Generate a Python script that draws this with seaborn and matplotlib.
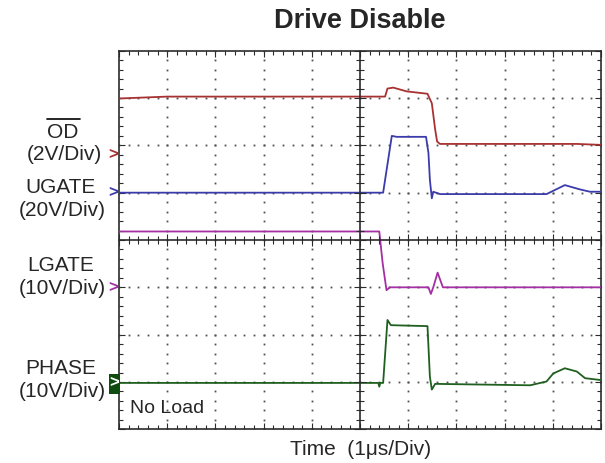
import numpy as np
import pandas as pd
import matplotlib
matplotlib.use("Agg")
import matplotlib.pyplot as plt
import seaborn as sns
from matplotlib.patches import Rectangle
from matplotlib.lines import Line2D
from matplotlib.ticker import MultipleLocator

# ---- data (time in divisions, amplitude in divisions from screen centre) ----
od_t = [0.0, 1.0, 5.52, 5.57, 5.69, 5.97, 6.40, 6.49, 6.56, 6.60, 6.66, 9.5, 10.0]
od_v = [2.99, 3.03, 3.03, 3.20, 3.22, 3.14, 3.09, 2.89, 2.33, 2.08, 2.03, 2.03, 2.01]

ug_t = [0.0, 5.48, 5.66, 5.76, 6.37, 6.42, 6.45, 6.49, 6.52, 6.66, 8.87, 9.25, 9.56, 9.77, 10.0]
ug_v = [1.00, 1.00, 2.20, 2.18, 2.18, 1.84, 1.27, 0.88, 1.02, 0.97, 0.97, 1.16, 1.07, 1.02, 1.02]

lg_t = [0.0, 5.40, 5.47, 5.55, 5.62, 6.42, 6.47, 6.52, 6.61, 6.72, 10.0]
lg_v = [0.18, 0.18, -0.49, -1.06, -1.00, -1.00, -1.14, -1.00, -0.69, -1.00, -1.00]

ph_t = [0.0, 5.38, 5.40, 5.42, 5.48, 5.57, 5.64, 6.40, 6.45, 6.49, 6.56, 8.53, 8.87, 9.01, 9.25, 9.50, 9.67, 10.0]
ph_v = [-3.02, -3.02, -3.10, -3.02, -3.02, -1.69, -1.80, -1.82, -2.89, -3.16, -3.04, -3.07, -2.99, -2.82, -2.71, -2.78, -2.92, -2.96]

trace_names = ["OD", "UGATE", "LGATE", "PHASE"]
trace_colors = ["#a83232", "#3b3bab", "#a32fa3", "#1f5f1f"]

sns.set_style("ticks")
edge = '#2b2b2b'
plt.rcParams.update({
    'font.family': ['Liberation Sans', 'DejaVu Sans'],
    'xtick.bottom': True, 'xtick.top': True, 'ytick.left': True, 'ytick.right': True,
    'xtick.direction': 'in', 'ytick.direction': 'in',
    'xtick.major.size': 4.5, 'ytick.major.size': 4.5,
    'xtick.minor.size': 2.8, 'ytick.minor.size': 2.8,
    'xtick.major.width': 0.8, 'ytick.major.width': 0.8,
    'xtick.minor.width': 0.8, 'ytick.minor.width': 0.8,
    'xtick.color': edge, 'ytick.color': edge,
})

W, H = 605, 463
fig = plt.figure(figsize=(W / 100, H / 100), dpi=100)
L, R, T, B = 119, 601, 50.7, 429.3
rect = [L / W, 1 - B / H, (R - L) / W, (B - T) / H]
ax = fig.add_axes(rect)

frames = []
for name, t, v in zip(trace_names, [od_t, ug_t, lg_t, ph_t], [od_v, ug_v, lg_v, ph_v]):
    frames.append(pd.DataFrame({"t": t, "v": v, "trace": name}))
for df, c in zip(frames, trace_colors):
    sns.lineplot(data=df, x="t", y="v", ax=ax, color=c, lw=1.3,
                 sort=False, estimator=None, legend=False, zorder=5)

ax.set_xlim(0, 10)
ax.set_ylim(-4, 4)
ax.set_xlabel("")
ax.set_ylabel("")

# dotted graticule: dots at each minor position along major lines
gx, gy = [], []
for i in range(1, 10):
    if i == 5:
        continue
    for j in range(0, 41):
        gx.append(i); gy.append(-4 + 0.2 * j)
for k in range(-3, 4):
    if k == 0:
        continue
    for j in range(0, 51):
        gx.append(0.2 * j); gy.append(k)
ax.plot(gx, gy, ls='none', marker='s', ms=1.3, mew=0, color='#505050', zorder=1)

for s in ax.spines.values():
    s.set_visible(True)
    s.set_color(edge)
    s.set_linewidth(1.2)
for a in (ax.xaxis, ax.yaxis):
    a.set_major_locator(MultipleLocator(1))
    a.set_minor_locator(MultipleLocator(0.2))
ax.tick_params(which='both', direction='in', top=True, bottom=True, left=True, right=True,
               labelbottom=False, labelleft=False, labeltop=False, labelright=False,
               color=edge, width=0.8)
ax.tick_params(which='major', length=4.5)
ax.tick_params(which='minor', length=2.8)

# centre cross axes
ax2 = fig.add_axes(rect, facecolor='none')
ax2.set_xlim(0, 10)
ax2.set_ylim(-4, 4)
ax2.spines['left'].set_position(('data', 5))
ax2.spines['bottom'].set_position(('data', 0))
ax2.spines['top'].set_visible(False)
ax2.spines['right'].set_visible(False)
for sp in ('left', 'bottom'):
    ax2.spines[sp].set_color(edge)
    ax2.spines[sp].set_linewidth(1.2)
for a in (ax2.xaxis, ax2.yaxis):
    a.set_major_locator(MultipleLocator(1))
    a.set_minor_locator(MultipleLocator(0.2))
ax2.tick_params(which='both', direction='inout', top=False, right=False, bottom=True, left=True,
                labelbottom=False, labelleft=False, color=edge, width=0.8)
ax2.tick_params(which='major', length=8)
ax2.tick_params(which='minor', length=5.5)

def px(x, y):
    return x / W, 1 - y / H

fs = 15
fig.text(*px(359.5, 28), "Drive Disable", ha='center', va='baseline', fontsize=19.5, fontweight='bold')
fig.text(*px(360.5, 455), "Time  (1\u03bcs/Div)", ha='center', va='baseline', fontsize=fs)
fig.text(*px(130, 412.7), "No Load", ha='left', va='baseline', fontsize=14)

fig.text(*px(63, 138.3), "OD", ha='center', va='baseline', fontsize=fs)
fig.add_artist(Line2D([47 / W, 79.5 / W], [1 - 118.5 / H, 1 - 118.5 / H], color='black', lw=1.2))
fig.text(*px(102, 160.5), "(2V/Div)", ha='right', va='baseline', fontsize=fs)
fig.text(*px(61, 193.3), "UGATE", ha='center', va='baseline', fontsize=fs)
fig.text(*px(106, 215.5), "(20V/Div)", ha='right', va='baseline', fontsize=fs)
fig.text(*px(60.5, 270.7), "LGATE", ha='center', va='baseline', fontsize=fs)
fig.text(*px(106, 293.5), "(10V/Div)", ha='right', va='baseline', fontsize=fs)
fig.text(*px(60.7, 374), "PHASE", ha='center', va='baseline', fontsize=fs)
fig.text(*px(106, 397.2), "(10V/Div)", ha='right', va='baseline', fontsize=fs)

# channel ground markers
for (yy, c) in [(155, trace_colors[0]), (192.7, trace_colors[1]), (287.3, trace_colors[2])]:
    fig.text(*px(113.5, yy), ">", ha='center', va='center', fontsize=12, fontweight='bold', color=c)
fig.add_artist(Rectangle((109 / W, 1 - 394 / H), 10.5 / W, 20 / H, transform=fig.transFigure,
                         facecolor='#0f4a0f', edgecolor='none'))
fig.text(*px(114, 383), ">", ha='center', va='center', fontsize=12, fontweight='bold', color='white')

fig.savefig("out.png", dpi=100)
